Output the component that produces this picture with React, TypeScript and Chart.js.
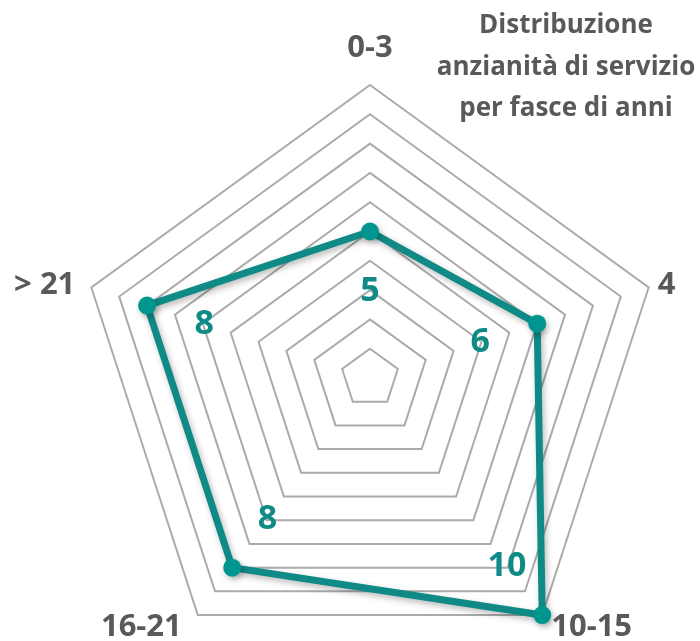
import React, { useEffect, useRef } from "react";
import { Chart, registerables } from "chart.js";

Chart.register(...registerables);

const categories = ["0-3", "4", "10-15", "16-21", "> 21"];
const values = [5, 6, 10, 8, 8];
const titleLines = ["Distribuzione", "anzianità di servizio", "per fasce di anni"];
const scaleMin = 0;
const scaleMax = 10;
const scaleStep = 1;

const TEAL = "#0f8a86";
const POINT_TEAL = "#00968f";
const GRAY_TEXT = "#595959";
const FONT = "'Open Sans', 'Noto Sans', sans-serif";

const shadowPlugin = {
  id: "shadowPlugin",
  beforeDatasetsDraw(chart: any) {
    const ctx = chart.ctx;
    ctx.save();
    ctx.shadowColor = "rgba(0,0,0,0.28)";
    ctx.shadowBlur = 6;
    ctx.shadowOffsetX = 2;
    ctx.shadowOffsetY = 3;
  },
  afterDatasetsDraw(chart: any) {
    chart.ctx.restore();
  },
};

const labelsPlugin = {
  id: "labelsPlugin",
  afterDraw(chart: any) {
    const ctx = chart.ctx;
    const scale = chart.scales.r;
    const cx = scale.xCenter;
    const cy = scale.yCenter;
    ctx.save();

    // axis category labels
    ctx.fillStyle = GRAY_TEXT;
    ctx.font = `bold 31px ${FONT}`;
    categories.forEach((label, i) => {
      const pos = scale.getPointPositionForValue(i, scaleMax);
      const a = scale.getIndexAngle(i);
      const s = Math.sin(a);
      const c = Math.cos(a);
      if (Math.abs(s) < 0.05) {
        ctx.textAlign = "center";
        ctx.textBaseline = "alphabetic";
        ctx.fillText(label, pos.x, pos.y - 28);
      } else {
        ctx.textAlign = s > 0 ? "left" : "right";
        const x = pos.x + (s > 0 ? 9 : -16);
        if (c > 0) {
          ctx.textBaseline = "middle";
          ctx.fillText(label, x, pos.y - 2);
        } else {
          ctx.textBaseline = "top";
          ctx.fillText(label, x, pos.y - 3);
        }
      }
    });

    // data labels
    ctx.fillStyle = TEAL;
    ctx.font = `bold 34px ${FONT}`;
    ctx.textAlign = "center";
    ctx.textBaseline = "middle";
    values.forEach((v, i) => {
      const p = scale.getPointPositionForValue(i, v);
      const dx = cx - p.x;
      const dy = cy - p.y;
      const d = Math.hypot(dx, dy) || 1;
      const off = 60;
      ctx.fillText(String(v), p.x + (dx / d) * off, p.y + (dy / d) * off);
    });

    // title
    ctx.fillStyle = GRAY_TEXT;
    ctx.font = `bold 26px ${FONT}`;
    ctx.textAlign = "center";
    ctx.textBaseline = "middle";
    titleLines.forEach((t, i) => {
      ctx.fillText(t, 566, 26 + i * 41.5);
    });
    ctx.restore();
  },
};

export default function App() {
  const ref = useRef<HTMLCanvasElement | null>(null);
  useEffect(() => {
    if (!ref.current) return;
    const chart = new Chart(ref.current, {
      type: "radar",
      data: {
        labels: categories,
        datasets: [
          {
            data: values,
            borderColor: TEAL,
            borderWidth: 7,
            backgroundColor: "rgba(0,0,0,0)",
            fill: false,
            pointBackgroundColor: POINT_TEAL,
            pointBorderColor: POINT_TEAL,
            pointRadius: 9,
            pointBorderWidth: 0,
            tension: 0,
          },
        ],
      },
      options: {
        animation: false,
        responsive: true,
        maintainAspectRatio: false,
        layout: { padding: { left: 77, right: 37, top: 85, bottom: 9 } },
        plugins: {
          legend: { display: false },
          tooltip: { enabled: false },
          title: { display: false },
        },
        scales: {
          r: {
            min: scaleMin,
            max: scaleMax,
            ticks: { display: false, stepSize: scaleStep },
            grid: { color: "#ababab", lineWidth: 2, circular: false },
            angleLines: { display: false },
            pointLabels: { display: false },
          },
        },
      },
      plugins: [shadowPlugin, labelsPlugin],
    });
    return () => chart.destroy();
  }, []);

  return (
    <div
      style={{
        position: "fixed",
        left: 0,
        top: 0,
        width: 700,
        height: 641,
        overflow: "hidden",
        background: "#ffffff",
      }}
    >
      <div style={{ position: "relative", width: 700, height: 680 }}>
        <canvas ref={ref} />
      </div>
    </div>
  );
}
